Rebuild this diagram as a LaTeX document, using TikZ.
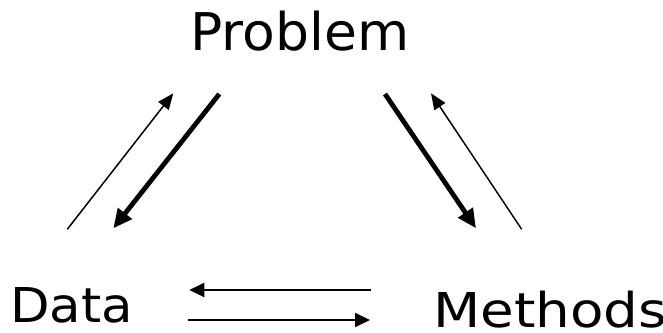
\documentclass[tikz,border=0pt]{standalone}
\usepackage{fontspec}
\setmainfont{DejaVu Sans}
\usetikzlibrary{arrows.meta}
\begin{document}
\begin{tikzpicture}[x=1pt,y=-1pt,
  lbl/.style={inner sep=0pt,anchor=base west,text depth=0pt,transform shape},
  thinarr/.style={line width=1.5pt,-{Triangle[length=16pt,width=13pt]}},
  thickarr/.style={line width=4.8pt,-{Triangle[length=19pt,width=17pt]}},
  horarr/.style={line width=2.2pt,-{Triangle[length=15pt,width=14pt]}}]
\useasboundingbox (0,0) rectangle (663,332);
\node[lbl,xscale=1.03,font=\fontsize{52}{60}\selectfont] (problem) at (190,50) {Problem};
\node[lbl,xscale=1.07,font=\fontsize{48}{58}\selectfont] (data) at (10,322) {Data};
\node[lbl,xscale=1.14,font=\fontsize{48}{58}\selectfont] (methods) at (433,327) {Methods};
\coordinate (a1) at (67.3,229.3);
\coordinate (a2) at (173.3,93.3);
\coordinate (b1) at (219.3,94);
\coordinate (b2) at (113.3,228.3);
\coordinate (c1) at (385,94);
\coordinate (c2) at (476,228.3);
\coordinate (d1) at (521.7,229.3);
\coordinate (d2) at (431,93.3);
\coordinate (e1) at (370.7,290);
\coordinate (e2) at (189.3,290);
\coordinate (f1) at (188.3,320);
\coordinate (f2) at (370,320);
\draw[thinarr] (a1) -- (a2);
\draw[thickarr] (b1) -- (b2);
\draw[thickarr] (c1) -- (c2);
\draw[thinarr] (d1) -- (d2);
\draw[horarr] (e1) -- (e2);
\draw[horarr] (f1) -- (f2);
\end{tikzpicture}
\end{document}
